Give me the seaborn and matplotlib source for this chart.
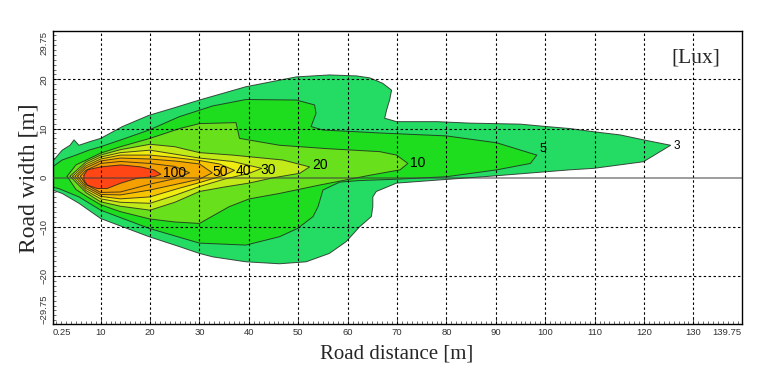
import matplotlib
matplotlib.use("Agg")
import matplotlib.pyplot as plt
from matplotlib.ticker import FixedLocator, MultipleLocator
import seaborn as sns

# iso-lux outlines, (road distance [m], road width [m])
# top edge runs left -> right, bottom edge runs right -> left
lux3_top = [(0.25, 3.3), (2.2, 5.6), (3.8, 6.6), (4.6, 7.7), (5.6, 6.6), (8, 7.4), (10, 8.0),
            (14.4, 10.4), (19.8, 12.7), (24.5, 14.1), (30, 15.8), (39.4, 18.5), (49.6, 20.5),
            (56.3, 20.9), (61.8, 20.7), (64.5, 20.3), (67.1, 19.2), (68.9, 17.8), (68.5, 15.8),
            (67.9, 13.8), (67.5, 12.1), (69.9, 11.4), (78, 11.4), (84.8, 11.1), (94.9, 10.9),
            (100.3, 10.4), (105, 10.0), (109.8, 9.35), (115.2, 8.7), (119.9, 7.7), (125.4, 6.6)]
lux3_bottom = [(119.9, 3.25), (109.8, 1.9), (105, 1.6), (89.5, 0.35), (78, -0.5), (69.9, -1.1),
               (65.8, -2.8), (65.1, -3.9), (65.1, -5.9), (64.8, -7.9), (62.4, -10), (59.7, -13),
               (56.3, -15.4), (51.6, -17.1), (46.2, -17.5), (39.4, -17.1), (32.7, -16.1),
               (30, -15.4), (25.9, -14.0), (19.8, -12), (10, -8.3), (5.6, -5.2), (2.2, -3.2),
               (0.25, -2.5)]

lux5_top = [(0.25, 2.2), (2.2, 3.6), (5, 4.6), (7.6, 5.6), (10, 6.3), (14.4, 7.8), (19.8, 9.7),
            (25.9, 12.4), (32.7, 14.6), (39.4, 15.9), (49.6, 15.8), (53.3, 14.8), (53.6, 13.1),
            (52.6, 10.4), (55, 9.7), (66.5, 9.1), (80, 8.5), (90.2, 7.1), (98.3, 4.6)]
lux5_bottom = [(97, 2.9), (90.2, 1.6), (80, 0.2), (70, -0.3), (62, -0.6), (58.4, -0.9),
               (55, -2.5), (54, -5.9), (53, -7.9), (49.9, -10.3), (46.2, -12), (39.4, -13.7),
               (30, -13.3), (19.8, -10.3), (10, -6.6), (5.6, -3.9), (1.5, -2.2), (0.25, -1.9)]

lux10_top = [(3.2, 0.3), (5, 2.6), (7.3, 3.7), (10, 5.0), (14, 6.3), (20, 8.0), (26, 10.0),
             (30, 11.0), (37.4, 11.2), (38.1, 8.0), (46.2, 6.6), (56, 5.9), (66.5, 5.3),
             (69.9, 4.6), (72.2, 2.9)]
lux10_bottom = [(70.6, 1.6), (64.5, 0.5), (54.3, -1.5), (46.2, -3.2), (40.1, -4.3), (36, -5.9),
                (30, -9.3), (25, -9.0), (20, -8.4), (14, -6.9), (10, -5.5), (7.3, -3.9),
                (5, -2.4)]

lux20_top = [(3.8, 0.3), (7, 3.2), (10, 4.6), (14, 5.7), (20, 6.8), (25, 6.3), (30, 5.1),
             (36.7, 4.6), (46.9, 3.6), (52.3, 2.2)]
lux20_bottom = [(50.3, 0.9), (45, 0.0), (40, -1.1), (35, -1.9), (30, -2.8), (25, -5.0),
                (20, -6.6), (14, -5.8), (10, -4.9), (7, -3.0)]

lux30_top = [(4.3, 0.3), (7, 2.8), (10, 4.2), (14, 5.1), (20, 5.6), (25, 4.8), (30, 4.0),
             (36.7, 3.3), (42.6, 1.9)]
lux30_bottom = [(40.1, 0.9), (35, -0.3), (30, -1.8), (25, -3.6), (20, -5.2), (14, -5.0),
                (10, -4.3), (7, -2.6)]

lux40_top = [(4.8, 0.3), (7, 2.4), (10, 3.8), (14, 4.6), (20, 4.6), (25, 4.1), (30, 3.5),
             (34, 2.8), (37.1, 1.5)]
lux40_bottom = [(35, 0.5), (30, -1.0), (25, -2.4), (20, -3.9), (14, -4.3), (10, -3.8),
                (7, -2.2)]

lux50_top = [(5.3, 0.3), (7, 2.0), (10, 3.4), (14, 4.0), (20, 3.8), (25, 3.4), (30, 2.8),
             (32.6, 1.0)]
lux50_bottom = [(30, -0.3), (25, -1.4), (20, -2.5), (14, -3.5), (10, -3.4), (7, -1.8)]

lux70_top = [(5.9, 0.3), (7, 1.5), (10, 2.9), (14, 3.3), (20, 2.9), (25, 2.3), (28, 1.0)]
lux70_bottom = [(25, -0.2), (20, -1.3), (14, -2.9), (10, -3.0), (7, -1.4)]

lux100_top = [(6.6, 0.5), (7.3, 1.6), (10, 2.2), (14.1, 2.6), (18.1, 2.2), (20.8, 1.6),
              (22.2, 0.7)]
lux100_bottom = [(20.8, 0.2), (17.4, -0.1), (14.1, -1.1), (11.3, -2.2), (9.3, -2.2),
                 (7.3, -1.5), (6.6, -0.5)]

levels = [3, 5, 10, 20, 30, 40, 50, 70, 100]
outlines = [(lux3_top, lux3_bottom), (lux5_top, lux5_bottom), (lux10_top, lux10_bottom),
            (lux20_top, lux20_bottom), (lux30_top, lux30_bottom), (lux40_top, lux40_bottom),
            (lux50_top, lux50_bottom), (lux70_top, lux70_bottom), (lux100_top, lux100_bottom)]
band_colors = ['#24dc64', '#1edc1e', '#68e01c', '#c2ea18', '#eeec10', '#f6c400',
               '#f5a800', '#f4a000', '#ff4614']

# contour labels as printed next to each tip
label_text = ['3', '5', '10', '20', '30', '40', '50', '100']
label_x = [126.0, 98.9, 72.6, 52.9, 42.4, 37.3, 32.6, 22.6]
label_y = [6.4, 5.8, 3.0, 2.6, 1.6, 1.4, 1.2, 0.95]
label_size = [8.5, 9, 10, 10, 10, 10, 10, 10]

x_ticks = [0.25, 10, 20, 30, 40, 50, 60, 70, 80, 90, 100, 110, 120, 130, 139.75]
y_ticks = [-29.75, -20, -10, 0, 10, 20, 29.75]
x_grid = [10, 20, 30, 40, 50, 60, 70, 80, 90, 100, 110, 120, 130]
y_grid = [-20, -10, 10, 20]

sns.set_style('white')
plt.rcParams['font.family'] = ['Liberation Sans', 'DejaVu Sans']

fig = plt.figure(figsize=(7.59, 3.70), dpi=100)
ax = fig.add_axes([0.0692, 0.1243, 0.9078, 0.7908])

for (top, bottom), color in zip(outlines, band_colors):
    pts = top + bottom + [top[0]]
    xs = [p[0] for p in pts]
    ys = [p[1] for p in pts]
    ax.fill(xs, ys, color=color, lw=0, zorder=1)
    sns.lineplot(x=xs, y=ys, sort=False, estimator=None, color='#202020',
                 lw=0.7, alpha=0.8, ax=ax, zorder=2)

# dashed grid drawn over the colour bands
for gx in x_grid:
    ax.axvline(gx, color='black', lw=0.8, ls=(0, (2.2, 2.2)), zorder=3)
for gy in y_grid:
    ax.axhline(gy, color='black', lw=0.8, ls=(0, (2.2, 2.2)), zorder=3)
ax.axhline(0, color='#404040', lw=1.2, alpha=0.6, zorder=3)

for txt, tx, ty, fs in zip(label_text, label_x, label_y, label_size):
    ax.text(tx, ty, txt, fontsize=fs, ha='left', va='center', color='black', zorder=4)

ax.text(125.6, 24.3, '[Lux]', family='Liberation Serif', fontsize=15.5, ha='left', va='center')

ax.set_xlim(0.25, 139.75)
ax.set_ylim(-29.75, 29.75)
ax.xaxis.set_major_locator(FixedLocator(x_ticks))
ax.yaxis.set_major_locator(FixedLocator(y_ticks))
ax.set_xticklabels(['0.25'] + [str(v) for v in x_ticks[1:-1]] + ['139.75'])
ax.set_yticklabels(['\u221229.75', '\u221220', '\u221210', '0', '10', '20', '29.75'],
                   rotation=90, va='center')
ax.xaxis.set_minor_locator(MultipleLocator(1))
ax.yaxis.set_minor_locator(MultipleLocator(1))
ax.tick_params(which='both', direction='in', bottom=True, left=True, top=False, right=False,
               labelsize=6.8, labelcolor='#333333', color='#333333')
ax.tick_params(which='major', length=4, width=0.6, pad=3)
ax.tick_params(which='minor', length=2, width=0.5)

# end labels sit inside the axis span, as in the original
xlabels = ax.get_xticklabels()
xlabels[0].set_ha('left')
xlabels[-1].set_ha('right')
ylabels = ax.get_yticklabels()
ylabels[0].set_va('bottom')
ylabels[-1].set_va('top')

for side in ['left', 'right', 'top', 'bottom']:
    ax.spines[side].set_color('black')
    ax.spines[side].set_linewidth(1.0)

ax.set_xlabel('Road distance [m]', family='Liberation Serif', fontsize=15, labelpad=5)
ax.set_ylabel('Road width [m]', family='Liberation Serif', fontsize=17, labelpad=0)

fig.savefig('out.png', dpi=100)
